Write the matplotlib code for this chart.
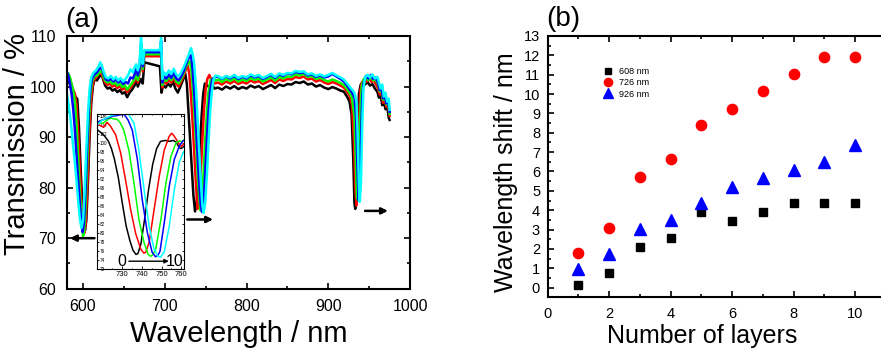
#!/usr/bin/env python3

'''
Two panel figure:
+ (a) transmission spectra of the stack for an increasing number of layers,
  with an inset zooming on the dip near 740 nm
+ (b) wavelength shift of the three dips versus number of layers
Saved as out.png
'''

import matplotlib
matplotlib.use('Agg')
from matplotlib import pyplot as plt
from matplotlib.ticker import FixedLocator, MultipleLocator

plt.rcParams['font.family'] = ['Liberation Sans', 'DejaVu Sans']

PNG_FILENAME = 'out.png'

# ---------------------------------------------------------------- panel (a)
# (wavelength nm, transmission %), one list per curve
SPEC_BLACK = [
    (580, 100.2), (582, 101.8), (584, 100.5), (586, 99.2), (588, 98.6),
    (590, 98.2), (593, 97.5), (595, 92.0), (597, 84.0), (599, 77.0),
    (601, 72.5), (602.5, 71.6), (604, 73.5), (606, 81.0), (608, 90.0),
    (610, 96.5), (612, 100.0), (614, 101.5), (617, 101.2), (620, 102.0),
    (623, 102.3), (625, 101.2), (627, 100.2), (630, 99.6), (633, 99.8),
    (636, 99.2), (639, 99.5), (642, 98.9), (645, 99.3), (648, 98.6),
    (651, 98.9), (654, 97.9), (657, 98.8), (660, 99.4), (663, 100.2),
    (665, 101.8), (667, 100.0), (669, 100.8), (671, 101.5), (673, 100.6),
    (675, 104.8), (694, 104.0), (696, 98.8), (698, 100.3), (701, 99.8),
    (704, 100.6), (707, 100.0), (710, 101.0), (713, 99.6), (716, 98.8),
    (719, 100.0), (722, 101.2), (725, 102.6), (727, 100.5), (729, 95.0),
    (731, 89.5), (733, 84.0), (735, 78.5), (737, 75.3), (739, 77.0),
    (741, 81.5), (743, 88.0), (745, 94.0), (747, 98.5), (749, 100.6),
    (752, 100.2), (755, 99.8), (758, 100.3), (761, 99.6), (765, 99.8),
    (770, 99.4), (775, 100.0), (780, 99.6), (785, 100.1), (790, 99.5),
    (795, 99.9), (800, 99.6), (805, 100.2), (810, 99.8), (815, 100.1),
    (820, 99.5), (825, 99.9), (830, 100.3), (835, 99.7), (840, 100.4),
    (845, 100.1), (850, 100.5), (855, 100.4), (860, 100.9), (865, 100.7),
    (870, 101.0), (875, 100.4), (880, 100.6), (885, 100.0), (890, 100.3),
    (895, 99.8), (900, 99.5), (905, 99.9), (910, 99.6), (915, 99.2),
    (919, 99.0), (923, 98.0), (926, 97.0), (928.5, 94.5), (930.5, 86.0),
    (932, 77.0), (933, 75.8), (934.5, 80.0), (936, 91.0), (937.5, 98.5),
    (939.5, 100.3), (942, 100.8), (945, 100.4), (948, 100.9), (951, 100.2),
    (954, 100.5), (957, 99.6), (960, 99.0), (962, 97.8), (964, 98.5),
    (966, 96.3), (968, 97.0), (970, 95.5), (972, 96.2), (974, 93.8),
    (975, 93.4),
]
SPEC_RED = [
    (580, 101.0), (582, 102.4), (584, 101.6), (586, 100.2), (588, 99.4),
    (590, 98.6), (592, 96.5), (594, 91.0), (596, 84.0), (598, 77.5),
    (600, 72.8), (601.5, 71.0), (603, 72.5), (605, 79.0), (607, 88.0),
    (609, 95.5), (611, 99.5), (613, 101.2), (616, 101.8), (619, 102.4),
    (622, 102.8), (625, 101.6), (627, 100.8), (630, 100.3), (633, 100.6),
    (636, 100.0), (639, 100.3), (642, 99.7), (645, 100.1), (648, 99.4),
    (651, 99.8), (654, 98.9), (657, 99.6), (660, 100.2), (663, 101.0),
    (665, 102.5), (667, 100.8), (669, 102.5), (671, 106.0), (673, 103.0),
    (675, 106.0), (694, 106.0), (695.5, 107.0), (697, 99.8), (699, 101.0),
    (702, 100.6), (705, 101.4), (708, 100.8), (711, 101.8), (714, 100.5),
    (717, 100.0), (720, 101.0), (723, 102.0), (726, 103.5), (728, 104.2),
    (730, 102.5), (732, 98.5), (734, 93.0), (736, 87.0), (738, 81.0),
    (740, 75.8), (742, 77.5), (744, 83.0), (746, 89.5), (748, 95.5),
    (750, 99.5), (752, 101.5), (754.5, 102.3), (757, 101.3), (761, 100.6),
    (765, 100.8), (770, 100.4), (775, 101.0), (780, 100.6), (785, 101.1),
    (790, 100.5), (795, 100.9), (800, 100.6), (805, 101.2), (810, 100.8),
    (815, 101.1), (820, 100.5), (825, 100.9), (830, 101.3), (835, 100.7),
    (840, 101.4), (845, 101.1), (850, 101.5), (855, 101.4), (860, 101.9),
    (865, 101.7), (870, 102.0), (875, 101.4), (880, 101.6), (885, 101.0),
    (890, 101.3), (895, 100.8), (900, 100.5), (905, 100.9), (910, 100.6),
    (915, 100.2), (919, 99.8), (923, 99.0), (926, 98.2), (929, 96.5),
    (931.5, 89.0), (933, 80.0), (934.5, 76.5), (936, 81.0), (937.5, 92.0),
    (939, 99.0), (941, 100.8), (944, 101.4), (947, 101.0), (950, 101.6),
    (953, 100.9), (956, 101.2), (959, 100.2), (961, 99.6), (963, 98.4),
    (965, 99.2), (967, 96.8), (969, 97.6), (971, 96.0), (973, 96.6),
    (975, 94.2),
]
SPEC_GREEN = [
    (580, 101.5), (582, 102.6), (584, 101.8), (586, 100.5), (588, 99.2),
    (590, 97.0), (592, 92.5), (594, 86.0), (596, 79.5), (598, 74.0),
    (600, 70.4), (601.5, 71.5), (603, 76.0), (605, 84.5), (607, 93.0),
    (609, 98.5), (611, 101.0), (614, 102.0), (617, 102.2), (620, 102.8),
    (623, 103.2), (625, 102.0), (627, 101.2), (630, 100.8), (633, 101.1),
    (636, 100.5), (639, 100.8), (642, 100.2), (645, 100.6), (648, 99.9),
    (651, 100.3), (654, 99.4), (657, 100.1), (660, 100.7), (663, 101.5),
    (665, 103.0), (667, 101.3), (669, 103.0), (671, 107.0), (673, 103.5),
    (675, 106.4), (694, 106.4), (695.5, 107.8), (697, 100.3), (699, 101.5),
    (702, 101.1), (705, 101.9), (708, 101.3), (711, 102.3), (714, 101.0),
    (717, 100.6), (720, 101.5), (723, 102.6), (726, 104.0), (729, 104.8),
    (731, 105.0), (733, 102.5), (735, 98.0), (737, 92.5), (739, 86.5),
    (741, 80.5), (743.5, 75.5), (745.5, 77.5), (747.5, 83.0), (749.5, 89.5),
    (751.5, 95.0), (753.5, 99.0), (756, 101.3), (759, 101.6), (762, 101.2),
    (766, 101.4), (770, 100.9), (775, 101.5), (780, 101.1), (785, 101.6),
    (790, 101.0), (795, 101.4), (800, 101.1), (805, 101.7), (810, 101.3),
    (815, 101.6), (820, 101.0), (825, 101.4), (830, 101.8), (835, 101.2),
    (840, 101.9), (845, 101.6), (850, 102.0), (855, 101.9), (860, 102.4),
    (865, 102.2), (870, 102.5), (875, 101.9), (880, 102.1), (885, 101.5),
    (890, 101.8), (895, 101.3), (900, 101.0), (905, 101.4), (910, 101.1),
    (915, 100.7), (919, 100.3), (923, 99.5), (926, 98.8), (929, 97.8),
    (932, 94.0), (933.5, 86.0), (935, 78.0), (936.5, 77.5), (938, 86.0),
    (939.5, 96.0), (941, 100.0), (943, 101.4), (946, 101.8), (949, 101.3),
    (952, 101.9), (955, 101.2), (958, 101.4), (961, 100.4), (963, 99.0),
    (965, 99.8), (967, 97.4), (969, 98.2), (971, 96.5), (973, 97.2),
    (975, 94.6),
]
SPEC_BLUE = [
    (580, 103.0), (582, 102.2), (584, 100.6), (586, 98.5), (588, 95.5),
    (590, 91.5), (592, 86.5), (594, 81.5), (596, 77.0), (598, 72.8),
    (599.5, 71.2), (601, 73.0), (603, 79.5), (605, 88.0), (607, 95.5),
    (609, 99.8), (611, 101.6), (614, 102.4), (617, 102.8), (620, 103.5),
    (623, 103.8), (625, 102.6), (628, 101.4), (631, 101.2), (634, 101.6),
    (637, 101.0), (640, 101.4), (643, 100.8), (646, 101.2), (649, 100.5),
    (652, 100.9), (655, 100.6), (658, 101.8), (661, 101.6), (663, 102.4),
    (665, 103.8), (667, 102.2), (669, 103.5), (671, 108.5), (673, 104.0),
    (675, 106.8), (694, 106.8), (695.5, 109.0), (697, 100.8), (699, 102.0),
    (702, 101.6), (705, 102.4), (708, 101.7), (711, 102.8), (714, 101.6),
    (717, 101.2), (720, 102.0), (723, 103.0), (726, 104.4), (729, 105.6),
    (732, 106.2), (734, 103.5), (736, 99.0), (738, 93.0), (740, 87.0),
    (742, 81.0), (744, 76.5), (745.5, 75.2), (747.5, 77.0), (749.5, 83.0),
    (751.5, 89.5), (753.5, 95.0), (755.5, 99.0), (758, 101.4), (761, 101.8),
    (765, 102.0), (770, 101.5), (775, 102.0), (780, 101.6), (785, 102.1),
    (790, 101.5), (795, 101.9), (800, 101.6), (805, 102.2), (810, 101.8),
    (815, 102.1), (820, 101.5), (825, 101.9), (830, 102.3), (835, 101.7),
    (840, 102.4), (845, 102.1), (850, 102.6), (855, 102.4), (860, 102.9),
    (865, 102.7), (870, 102.8), (875, 102.2), (880, 102.4), (885, 101.9),
    (890, 102.2), (895, 101.8), (900, 102.0), (905, 102.5), (910, 102.0),
    (915, 101.5), (919, 101.0), (923, 100.2), (926, 99.5), (929, 98.8),
    (932, 97.8), (934, 94.0), (935.5, 85.0), (937, 77.5), (938.5, 79.0),
    (940, 89.0), (941.5, 97.5), (943, 100.6), (946, 102.1), (949, 101.6),
    (952, 102.3), (955, 101.5), (958, 101.8), (961, 100.7), (963, 99.3),
    (965, 100.1), (967, 97.7), (969, 98.5), (971, 96.7), (973, 97.4),
    (975, 95.0),
]
SPEC_CYAN = [
    (580, 99.0), (582, 96.8), (584, 94.5), (586, 91.5), (588, 88.0),
    (590, 85.0), (592, 81.5), (594, 77.5), (596, 74.0), (598, 72.0),
    (600, 73.5), (602, 79.5), (604, 87.5), (606, 94.5), (608, 99.5),
    (610, 101.8), (613, 102.8), (616, 103.2), (619, 104.0), (621, 104.8),
    (623, 104.2), (625, 103.0), (628, 101.8), (631, 101.6), (634, 102.1),
    (637, 101.4), (640, 101.9), (643, 101.2), (646, 101.7), (649, 101.0),
    (652, 101.5), (655, 102.2), (658, 103.4), (661, 102.8), (663, 103.8),
    (665, 104.4), (667, 103.2), (669, 104.5), (671, 110.0), (673, 104.5),
    (675, 107.2), (694, 107.2), (695.5, 109.6), (697, 101.5), (699, 102.8),
    (702, 102.3), (705, 103.2), (708, 102.5), (711, 103.5), (714, 102.4),
    (717, 102.0), (720, 102.8), (723, 103.8), (726, 105.0), (729, 106.2),
    (732, 107.6), (734, 106.5), (736, 104.5), (738, 100.0), (740, 94.0),
    (742, 87.5), (744, 81.5), (746, 76.5), (747.5, 75.0), (749.5, 77.0),
    (751.5, 82.5), (753.5, 89.0), (755.5, 95.0), (757.5, 99.0), (759.5, 101.3),
    (762, 102.2), (766, 102.0), (770, 101.6), (775, 102.1), (780, 101.8),
    (785, 102.3), (790, 101.7), (795, 102.1), (800, 101.8), (805, 102.4),
    (810, 102.0), (815, 102.3), (820, 101.7), (825, 102.1), (830, 102.5),
    (835, 101.9), (840, 102.6), (845, 102.3), (850, 102.7), (855, 102.6),
    (860, 103.1), (865, 102.9), (870, 103.0), (875, 102.4), (880, 102.6),
    (885, 102.1), (890, 102.4), (895, 102.0), (900, 102.3), (905, 102.7),
    (910, 102.2), (915, 101.8), (919, 101.4), (923, 100.6), (926, 100.0),
    (929, 99.4), (932, 98.8), (934.5, 97.0), (936, 90.0), (937.5, 80.0),
    (938.5, 77.2), (940, 81.0), (941.5, 92.0), (943, 99.5), (945, 101.8),
    (948, 102.3), (951, 101.8), (954, 102.4), (957, 101.6), (960, 101.9),
    (962, 100.8), (964, 99.6), (966, 100.4), (968, 98.0), (970, 98.8),
    (972, 97.0), (974, 97.6), (975, 95.4),
]

# inset: zoom on the dip around 740 nm
INSET_BLACK = [
    (717.3, 103.0), (719, 102.4), (721, 101.6), (723, 100.4), (724.5, 98.8),
    (726, 96.5), (728, 92.4), (730, 86.8), (732, 81.6), (734, 78.2),
    (735.5, 76.2), (737, 75.3), (738, 75.5), (739.5, 77.6), (741.5, 83.5),
    (743.5, 90.0), (745.5, 95.3), (747.5, 98.8), (749.5, 100.4), (752, 100.6),
    (754, 100.4), (756, 100.6), (757.5, 100.2), (759, 99.0), (760, 98.8),
    (761.4, 99.3),
]
INSET_RED = [
    (717.3, 104.3), (718.5, 104.0), (720.5, 103.5), (722.3, 104.6),
    (724, 103.8), (726.6, 101.9), (729.2, 97.8), (731.7, 91.8), (734.3, 85.2),
    (736.8, 80.0), (739.4, 76.5), (741, 75.6), (742, 75.8), (743.7, 78.0),
    (746.2, 85.2), (748.8, 92.6), (751.4, 98.5), (753.9, 101.5),
    (755.1, 102.2), (756.2, 101.7), (757.4, 100.9), (759, 99.8), (760, 99.3),
    (761.4, 99.8),
]
INSET_GREEN = [
    (717.3, 104.3), (718, 104.6), (720, 104.4), (722, 105.0), (724, 105.6),
    (725.5, 105.4), (727.4, 105.3), (729, 104.5), (730.8, 102.9),
    (733.4, 98.4), (736, 91.1), (738.5, 83.0), (741.1, 77.9), (743.2, 75.3),
    (744.4, 74.9), (745.5, 75.2), (747.1, 76.6), (749.7, 83.1), (752.2, 91.1),
    (754.8, 97.1), (757.4, 100.1), (759, 100.5), (760, 100.3), (761.4, 100.7),
]
INSET_BLUE = [
    (717.3, 104.6), (719, 105.0), (721, 105.3), (723, 105.6), (725, 106.0),
    (727, 106.1), (729, 106.3), (731, 106.4), (733, 105.1), (735.1, 102.9),
    (737.7, 96.4), (740.2, 87.4), (742.8, 80.1), (745.2, 75.8),
    (746.9, 74.8), (748.2, 75.1), (749.2, 76.0), (751.4, 82.4), (753.9, 90.4),
    (756.5, 96.4), (759, 99.3), (760.7, 100.4), (761.4, 100.6),
]
INSET_CYAN = [
    (717.3, 104.0), (719, 104.8), (721, 105.4), (723, 105.8), (725, 106.2),
    (728, 106.5), (731, 106.6), (733.4, 106.3), (736, 104.4), (738.5, 98.4),
    (741.1, 89.7), (743.7, 81.5), (746.2, 76.5), (748.2, 74.9),
    (749.5, 74.7), (751.4, 75.9), (753.9, 81.5), (756.5, 89.7), (759, 95.7),
    (760.7, 97.6), (761.4, 98.2),
]

SPECTRA = [SPEC_BLACK, SPEC_RED, SPEC_GREEN, SPEC_BLUE, SPEC_CYAN]
INSETS = [INSET_BLACK, INSET_RED, INSET_GREEN, INSET_BLUE, INSET_CYAN]
SPEC_COLORS = ['#000000', '#ff0000', '#00ff00', '#0000ff', '#00ffff']
INSET_TICKS = [730, 740, 750, 760]

# arrows showing the shift direction of each dip: (start nm, end nm, level %)
SHIFT_ARROWS = [(614, 584, 70.0), (727.5, 759, 73.7), (945, 973, 75.4)]

# ---------------------------------------------------------------- panel (b)
LAYERS = [1, 2, 3, 4, 5, 6, 7, 8, 9, 10]
SHIFT_608 = [0.15, 0.77, 2.10, 2.57, 3.91, 3.46, 3.91, 4.37, 4.37, 4.37]
SHIFT_726 = [1.77, 3.10, 5.73, 6.63, 8.38, 9.21, 10.16, 11.04, 11.91, 11.91]
SHIFT_926 = [0.95, 1.74, 3.05, 3.50, 4.36, 5.22, 5.65, 6.08, 6.49, 7.35]
SHIFT_LABELS = ['608 nm', '726 nm', '926 nm']


def style_axis(ax, width=1.5, major=4.0, minor=2.2, size=11.5, pad=7):
    for spine in ax.spines.values():
        spine.set_linewidth(width)
    ax.tick_params(which='both', direction='in', top=True, right=True,
                   width=width * 0.8)
    ax.tick_params(which='major', length=major, labelsize=size, pad=pad)
    ax.tick_params(which='minor', length=minor)


if __name__ == '__main__':
    fig = plt.figure(figsize=(8.81, 3.56), dpi=100)

    # ------------------------------------------------------------ (a)
    ax_a = fig.add_axes([0.0757, 0.189, 0.3897, 0.7098])
    for spec, color in zip(SPECTRA, SPEC_COLORS):
        wl, tr = zip(*spec)
        ax_a.plot(wl, tr, color=color, lw=1.8)
    for start, end, level in SHIFT_ARROWS:
        ax_a.annotate('', xy=(end, level), xytext=(start, level),
                      arrowprops=dict(arrowstyle='-|>', color='black',
                                      lw=1.8, mutation_scale=9,
                                      shrinkA=0, shrinkB=0))
    ax_a.set_xlim(580, 1000)
    ax_a.set_ylim(60, 110)
    ax_a.xaxis.set_major_locator(MultipleLocator(100))
    ax_a.xaxis.set_minor_locator(MultipleLocator(50))
    ax_a.yaxis.set_major_locator(MultipleLocator(10))
    ax_a.yaxis.set_minor_locator(MultipleLocator(5))
    style_axis(ax_a, size=11.5, pad=7.5)
    ax_a.set_xlabel('Wavelength / nm', fontsize=21, labelpad=4)
    ax_a.set_ylabel('Transmission / %', fontsize=21)
    ax_a.yaxis.set_label_coords(-0.103, 0.573)

    # inset
    ax_in = fig.add_axes([0.1104, 0.2435, 0.0984, 0.4354])
    for spec, color in zip(INSETS, SPEC_COLORS):
        wl, tr = zip(*spec)
        ax_in.plot(wl, tr, color=color, lw=1.1)
    ax_in.set_xlim(717.3, 761.4)
    ax_in.set_ylim(72, 106.4)
    ax_in.xaxis.set_major_locator(FixedLocator(INSET_TICKS))
    ax_in.xaxis.set_minor_locator(MultipleLocator(5))
    ax_in.yaxis.set_major_locator(MultipleLocator(2))
    for spine in ax_in.spines.values():
        spine.set_linewidth(0.8)
    ax_in.tick_params(which='both', direction='in', top=True, right=True,
                      width=0.6)
    ax_in.tick_params(axis='x', which='major', length=2, labelsize=5.5,
                      pad=1.5)
    ax_in.tick_params(axis='x', which='minor', length=1)
    ax_in.tick_params(axis='y', length=1.5, labelsize=3.3, pad=-1.5)
    for label in ax_in.get_yticklabels():
        label.set_horizontalalignment('left')
    ax_in.annotate('', xy=(753.7, 73.8), xytext=(733.4, 73.8),
                   arrowprops=dict(arrowstyle='-|>', color='black', lw=1.0,
                                   mutation_scale=6, shrinkA=0, shrinkB=0))
    ax_in.text(729.6, 73.8, '0', fontsize=11.5, ha='center', va='center')
    ax_in.text(756.9, 73.8, '10', fontsize=11.5, ha='center', va='center')

    # ------------------------------------------------------------ (b)
    ax_b = fig.add_axes([0.6217, 0.1666, 0.3837, 0.7323])
    ax_b.plot(LAYERS, SHIFT_608, 's', color='black', ms=6.2,
              label=SHIFT_LABELS[0])
    ax_b.plot(LAYERS, SHIFT_726, 'o', color='#ff0000', ms=7.4,
              label=SHIFT_LABELS[1])
    ax_b.plot(LAYERS, SHIFT_926, '^', color='#0000ff', ms=8.2,
              label=SHIFT_LABELS[2])
    ax_b.set_xlim(0, 11)
    ax_b.set_ylim(-0.47, 13)
    ax_b.xaxis.set_major_locator(MultipleLocator(2))
    ax_b.xaxis.set_minor_locator(MultipleLocator(1))
    ax_b.yaxis.set_major_locator(MultipleLocator(1))
    ax_b.yaxis.set_minor_locator(MultipleLocator(0.5))
    style_axis(ax_b, size=10.5, pad=5.5)
    ax_b.tick_params(which='both', right=False)
    ax_b.tick_params(axis='x', which='major', pad=7.5)
    ax_b.set_xlabel('Number of layers', fontsize=18, labelpad=2)
    ax_b.xaxis.set_label_coords(0.4556, -0.105)
    ax_b.set_ylabel('Wavelength shift / nm', fontsize=18)
    ax_b.yaxis.set_label_coords(-0.088, 0.479)
    ax_b.legend(loc='upper left', bbox_to_anchor=(0.164, 0.881),
                frameon=False, fontsize=6.5, markerscale=0.8,
                handlelength=1.0, handletextpad=0.8, labelspacing=0.25,
                borderpad=0, borderaxespad=0)

    fig.text(65 / 881, 1 - 20 / 356, '(a)', fontsize=20, va='center')
    fig.text(546 / 881, 1 - 19 / 356, '(b)', fontsize=20, va='center')

    fig.savefig(PNG_FILENAME, dpi=100)
